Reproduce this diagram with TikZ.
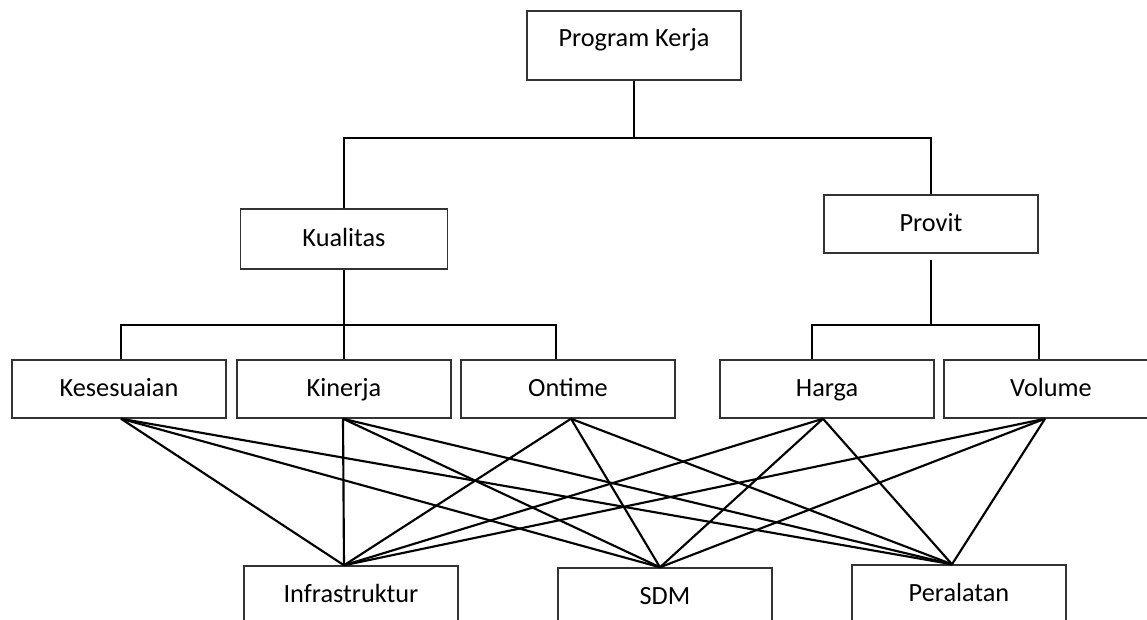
\documentclass[tikz,border=0pt]{standalone}
\usepackage{fontspec}
\setmainfont{Carlito}
\usetikzlibrary{calc}

\begin{document}
\begin{tikzpicture}[x=0.75pt,y=-0.75pt]
		\tikzset{box/.style={shape = rectangle, draw = black!80, line width = 1.1pt, minimum width = 160.5pt, minimum height = 43.5pt, inner sep = 0pt, text height = 16pt, text depth = 4.5pt, font = \fontsize{19.7pt}{23pt}\selectfont}}
		\tikzset{edge/.style={line width = 1.6pt}}
		\useasboundingbox (0,0) rectangle (1147,619);
		\clip (0,0) rectangle (1147,619);
					%vertices
					\node[box, minimum height = 51.75pt, text depth = 14.3pt] (prog) at (634, 45.5) {Program Kerja};
					\node[box, minimum width = 155.25pt, minimum height = 45pt] (kual) at (344, 239) {Kualitas};
					\node[box] (prov) at (931, 224) {Provit};
					\node[box] (kes) at (119, 389) {Kesesuaian};
					\node[box] (kin) at (344, 389) {Kinerja};
					\node[box] (ont) at (568, 389) {Ontime};
					\node[box] (har) at (827, 389) {Harga};
					\node[box] (vol) at (1051, 389) {Volume};
					\node[box] (inf) at (351, 595) {Infrastruktur};
					\node[box] (sdm) at (665, 597) {SDM};
					\node[box] (per) at (959, 594) {Peralatan};
					%joints
					\coordinate (top) at (634, 138);
					\coordinate (midL) at (344, 325);
					\coordinate (midR) at (931, 325);
					\coordinate (kes-o) at ([xshift = 1.5pt]kes.south);
					\coordinate (kin-o) at ([xshift = -0.75pt]kin.south);
					\coordinate (ont-o) at ([xshift = 2.25pt]ont.south);
					\coordinate (har-o) at ([xshift = -3pt]har.south);
					\coordinate (vol-o) at ([xshift = -4.5pt]vol.south);
					\coordinate (inf-i) at ([xshift = -5.25pt]inf.north);
					\coordinate (sdm-i) at ([xshift = -3.75pt]sdm.north);
					\coordinate (per-i) at ([xshift = -5.25pt]per.north);
					%edges
					\draw[edge] (prog) -- (top);
					\draw[edge] (kual.north) |- (top) -| (prov.north);
					\draw[edge] (kual) -- (kin);
					\draw[edge] ([xshift = 1.5pt]kes.north) |- (midL) -| ([xshift = -9pt]ont.north);
					\draw[edge, shorten <= 4.5pt] (prov) -- (midR);
					\draw[edge] ([xshift = -11.25pt]har.north) |- (midR) -| ([xshift = -9pt]vol.north);
					\foreach \a in {kes, kin, ont, har, vol}
						\foreach \b in {inf, sdm, per}
							\draw[edge] (\a-o) -- (\b-i);
					
\end{tikzpicture}
\end{document}
